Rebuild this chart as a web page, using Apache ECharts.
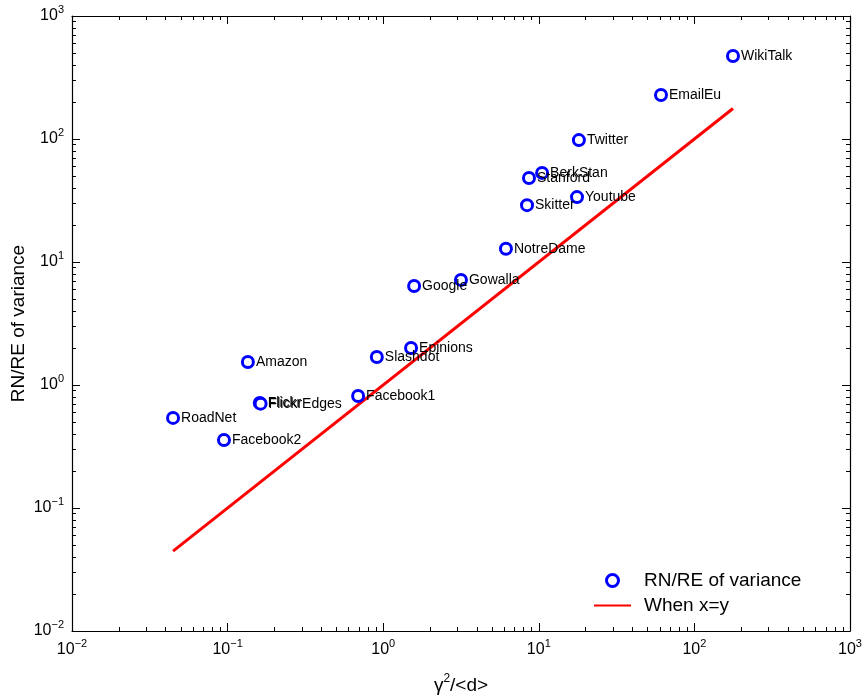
<!DOCTYPE html>
<html>
<head>
<meta charset="utf-8">
<script src="https://cdn.jsdelivr.net/npm/echarts@6/dist/echarts.min.js"></script>
<style>html,body{margin:0;padding:0;background:#fff;}#c{width:865px;height:698px;}</style>
</head>
<body>
<div id="c"></div>
<script>
const names = ['WikiTalk','EmailEu','Twitter','BerkStan','Stanford','Youtube','Skitter','NotreDame','Gowalla','Google','Epinions','Slashdot','Amazon','Facebook1','Flickr','FlickrEdges','RoadNet','Facebook2'];
const xVals = [177, 61, 18.1, 10.5, 8.65, 17.6, 8.4, 6.15, 3.16, 1.58, 1.51, 0.91, 0.135, 0.69, 0.161, 0.163, 0.0446, 0.0948];
const yVals = [473, 228, 98, 53, 48.2, 33.7, 29, 12.8, 7.15, 6.38, 2.0, 1.69, 1.54, 0.815, 0.714, 0.705, 0.54, 0.357];
const axisMin = 0.01, axisMax = 1000;
const minorMultipliers = [2,3,4,5,6,7,8,9];
const decades = [-2,-1,0,1,2];

const FONT = 'Liberation Sans, Arial, Helvetica, sans-serif';
const minorTicks = [];
decades.forEach(d => minorMultipliers.forEach(m => minorTicks.push(d + Math.log10(m))));

const scatterData = names.map((n, i) => ({name: n, value: [xVals[i], yVals[i]]}));
const lo = Math.min(...xVals), hi = Math.max(...xVals);
const lineData = [[lo, lo], [hi, hi]];

function fmt(v) {
  const e = Math.round(Math.log10(v));
  return '{b|10}{s|' + (e < 0 ? '\u2212' + (-e) : e) + '}';
}
const labelRich = {
  b: {fontSize: 16, fontFamily: FONT, color: '#000', lineHeight: 24},
  s: {fontSize: 11, fontFamily: FONT, color: '#000', verticalAlign: 'top', lineHeight: 24}
};
const axisLineStyle = {color: '#000', width: 1.2};

function mainAxis(pos, extra) {
  return Object.assign({
    type: 'log', logBase: 10, min: axisMin, max: axisMax, position: pos,
    axisLine: {show: true, onZero: false, lineStyle: axisLineStyle},
    axisTick: {show: true, inside: true, length: 8, lineStyle: {color: '#000', width: 1}},
    axisLabel: {show: false},
    splitLine: {show: false}, minorTick: {show: false}, minorSplitLine: {show: false}
  }, extra || {});
}
function minorAxis(pos) {
  return {
    type: 'value', min: Math.log10(axisMin), max: Math.log10(axisMax), position: pos,
    axisLine: {show: false, onZero: false},
    axisTick: {show: true, inside: true, length: 4, customValues: minorTicks, lineStyle: {color: '#000', width: 1}},
    axisLabel: {show: false}, splitLine: {show: false}
  };
}

const chart = echarts.init(document.getElementById('c'), null, {renderer: 'canvas'});
chart.setOption({
  animation: false,
  backgroundColor: '#fff',
  grid: {left: 72, right: 15, top: 16, bottom: 67, containLabel: false, outerBoundsMode: 'none'},
  xAxis: [
    mainAxis('bottom', {
      axisLabel: {show: true, formatter: fmt, rich: labelRich, margin: 7},
      name: '{a|\u03b3}{s|2}{a|/<d>}', nameLocation: 'middle', nameGap: 42, nameMoveOverlap: false,
      nameTextStyle: {rich: {a: {fontSize: 19, fontFamily: FONT, color: '#000', lineHeight: 26}, s: {fontSize: 12, fontFamily: FONT, color: '#000', verticalAlign: 'top', lineHeight: 26}}}
    }),
    mainAxis('top'),
    minorAxis('bottom'),
    minorAxis('top')
  ],
  yAxis: [
    mainAxis('left', {
      axisLabel: {show: true, formatter: fmt, rich: labelRich, margin: 8},
      name: 'RN/RE of variance', nameLocation: 'middle', nameGap: 44, nameMoveOverlap: false,
      nameTextStyle: {fontSize: 19, fontFamily: FONT, color: '#000'}
    }),
    mainAxis('right'),
    minorAxis('left'),
    minorAxis('right')
  ],
  legend: {
    orient: 'vertical', left: 588, top: 566, itemGap: 6, itemWidth: 37, itemHeight: 12,
    textStyle: {fontSize: 19, fontFamily: FONT, color: '#000', padding: [0, 0, 0, 8]},
    data: [
      {name: 'RN/RE of variance', itemStyle: {borderWidth: 3}},
      {name: 'When x=y', itemStyle: {opacity: 0}}
    ]
  },
  series: [
    {
      name: 'When x=y', type: 'line', xAxisIndex: 0, yAxisIndex: 0,
      data: lineData, symbol: 'none', showSymbol: false,
      lineStyle: {color: '#ff0000', width: 3}, itemStyle: {color: '#ff0000'}, z: 2
    },
    {
      name: 'RN/RE of variance', type: 'scatter', xAxisIndex: 0, yAxisIndex: 0,
      data: scatterData, symbol: 'circle', symbolSize: 11,
      itemStyle: {color: '#fff', borderColor: '#0000ff', borderWidth: 3, opacity: 1},
      label: {show: true, position: 'right', distance: 1, formatter: p => p.name, fontSize: 14, fontFamily: FONT, color: '#000'},
      z: 3
    }
  ]
});
</script>
</body>
</html>
